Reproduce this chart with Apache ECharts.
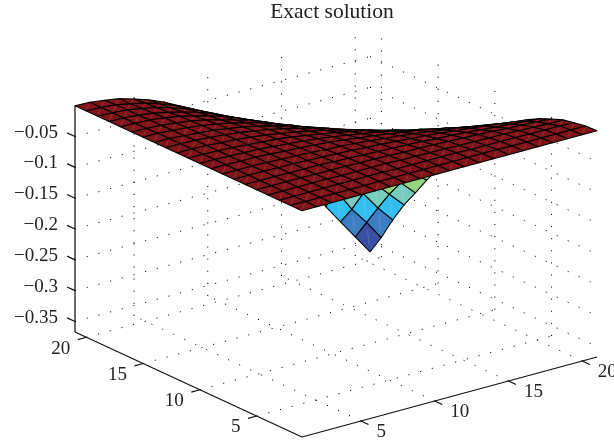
<!DOCTYPE html>
<html>
<head>
<meta charset="utf-8">
<script src="https://cdn.jsdelivr.net/npm/echarts@6/dist/echarts.min.js"></script>
<style>html,body{margin:0;padding:0;background:#fff}#c{width:614px;height:442px}</style>
</head>
<body>
<div id="c"></div>
<script>
const titleText = 'Exact solution';
const xTicks = [5, 10, 15, 20];
const yTicks = [5, 10, 15, 20];
const zTicks = [-0.05, -0.1, -0.15, -0.2, -0.25, -0.3, -0.35];
const zTickLabels = ['\u22120.05', '\u22120.1', '\u22120.15', '\u22120.2', '\u22120.25', '\u22120.3', '\u22120.35'];
const axisLow = 1, axisHigh = 21, zLow = -0.367, zTop = 0.0;
// rows: y = 1..21, columns: x = 1..21
const surfaceZ = [
[0,0,0,0,0,0,0,0,0,0,0,0,0,0,0,0,0,0,0,0,0],
[0,0,0,0,0,0,0,0,0,0,0,0,0,0,0,-0.001,-0.001,-0.001,-0.001,-0.001,-0.001],
[0,0,0,0,0,0,0,0,-0.001,-0.001,-0.001,-0.001,-0.001,-0.002,-0.002,-0.002,-0.002,-0.003,-0.003,-0.003,-0.004],
[0,0,0,0,0,-0.001,-0.001,-0.001,-0.001,-0.002,-0.002,-0.003,-0.003,-0.004,-0.004,-0.005,-0.005,-0.006,-0.007,-0.008,-0.008],
[0,0,0,0,-0.001,-0.001,-0.001,-0.002,-0.002,-0.003,-0.004,-0.004,-0.005,-0.006,-0.007,-0.008,-0.009,-0.011,-0.012,-0.013,-0.015],
[0,0,0,-0.001,-0.001,-0.001,-0.002,-0.003,-0.004,-0.005,-0.006,-0.007,-0.008,-0.01,-0.011,-0.013,-0.015,-0.017,-0.019,-0.021,-0.023],
[0,0,0,-0.001,-0.001,-0.002,-0.003,-0.004,-0.005,-0.007,-0.008,-0.01,-0.012,-0.014,-0.016,-0.019,-0.021,-0.024,-0.027,-0.03,-0.033],
[0,0,0,-0.001,-0.002,-0.003,-0.004,-0.006,-0.007,-0.009,-0.011,-0.014,-0.016,-0.019,-0.022,-0.026,-0.029,-0.033,-0.037,-0.041,-0.045],
[0,0,-0.001,-0.001,-0.002,-0.004,-0.005,-0.007,-0.009,-0.012,-0.015,-0.018,-0.021,-0.025,-0.029,-0.033,-0.038,-0.043,-0.048,-0.053,-0.059],
[0,0,-0.001,-0.002,-0.003,-0.005,-0.007,-0.009,-0.012,-0.015,-0.019,-0.023,-0.027,-0.032,-0.037,-0.042,-0.048,-0.054,-0.061,-0.068,-0.075],
[0,0,-0.001,-0.002,-0.004,-0.006,-0.008,-0.011,-0.015,-0.019,-0.023,-0.028,-0.033,-0.039,-0.045,-0.052,-0.059,-0.067,-0.075,-0.083,-0.093],
[0,0,-0.001,-0.003,-0.004,-0.007,-0.01,-0.014,-0.018,-0.023,-0.028,-0.034,-0.04,-0.047,-0.055,-0.063,-0.072,-0.081,-0.091,-0.101,-0.112],
[0,0,-0.001,-0.003,-0.005,-0.008,-0.012,-0.016,-0.021,-0.027,-0.033,-0.04,-0.048,-0.056,-0.065,-0.075,-0.085,-0.096,-0.108,-0.12,-0.133],
[0,0,-0.002,-0.004,-0.006,-0.01,-0.014,-0.019,-0.025,-0.032,-0.039,-0.047,-0.056,-0.066,-0.077,-0.088,-0.1,-0.113,-0.127,-0.141,-0.156],
[0,0,-0.002,-0.004,-0.007,-0.011,-0.016,-0.022,-0.029,-0.037,-0.045,-0.055,-0.065,-0.077,-0.089,-0.102,-0.116,-0.131,-0.147,-0.164,-0.181],
[0,-0.001,-0.002,-0.005,-0.008,-0.013,-0.019,-0.026,-0.033,-0.042,-0.052,-0.063,-0.075,-0.088,-0.102,-0.117,-0.133,-0.15,-0.169,-0.188,-0.208],
[0,-0.001,-0.002,-0.005,-0.009,-0.015,-0.021,-0.029,-0.038,-0.048,-0.059,-0.072,-0.085,-0.1,-0.116,-0.133,-0.152,-0.171,-0.192,-0.214,-0.237],
[0,-0.001,-0.003,-0.006,-0.011,-0.017,-0.024,-0.033,-0.043,-0.054,-0.067,-0.081,-0.096,-0.113,-0.131,-0.15,-0.171,-0.193,-0.217,-0.241,-0.265],
[0,-0.001,-0.003,-0.007,-0.012,-0.019,-0.027,-0.037,-0.048,-0.061,-0.075,-0.091,-0.108,-0.127,-0.147,-0.169,-0.192,-0.217,-0.242,-0.272,-0.298],
[0,-0.001,-0.003,-0.008,-0.013,-0.021,-0.03,-0.041,-0.053,-0.068,-0.083,-0.101,-0.12,-0.141,-0.164,-0.188,-0.214,-0.241,-0.276,-0.304,-0.335],
[0,-0.001,-0.004,-0.008,-0.015,-0.023,-0.033,-0.045,-0.059,-0.075,-0.093,-0.112,-0.133,-0.156,-0.181,-0.208,-0.237,-0.274,-0.305,-0.336,-0.367]
];
// facet colour bands: upper z bound -> colour
const bandTops = [-0.285, -0.255, -0.23, -0.204, -0.178, -0.15, -0.04, 1];
const bandColors = ['#3a50a5', '#3c7dc3', '#32bef0', '#76cdbe', '#94d480', '#bed75a', '#8f181c', '#801418'];

// view: screen vectors of the plot box (orthographic view of the 3-D box)
const view = { ox: 302, oy: 437, xx: 295, xy: -80, yx: -227, yy: -105, zz: -226.3 };
const xSpan = axisHigh - axisLow;
function project(x, y, z) {
  const a = (x - axisLow) / xSpan, b = (y - axisLow) / xSpan, c = (z - zLow) / (zTop - zLow);
  return [view.ox + a * view.xx + b * view.yx, view.oy + a * view.xy + b * view.yy + c * view.zz];
}
const chart = echarts.init(document.getElementById('c'));

// dotted grid: [x1,y1,z1,x2,y2,z2]
const gridLines = [];
xTicks.forEach(t => {
  gridLines.push([t, axisLow, zLow, t, axisHigh, zLow]);      // floor
  gridLines.push([t, axisHigh, zLow, t, axisHigh, zTop]);     // back-left wall
});
yTicks.forEach(t => {
  gridLines.push([axisLow, t, zLow, axisHigh, t, zLow]);      // floor
  gridLines.push([axisHigh, t, zLow, axisHigh, t, zTop]);     // back-right wall
});
zTicks.forEach(t => {
  gridLines.push([axisLow, axisHigh, t, axisHigh, axisHigh, t]);
  gridLines.push([axisHigh, axisHigh, t, axisHigh, axisLow, t]);
});

// solid axes and tick marks
const axisLines = [
  [axisLow, axisHigh, zLow, axisLow, axisHigh, zTop],
  [axisLow, axisLow, zLow, axisLow, axisHigh, zLow],
  [axisLow, axisLow, zLow, axisHigh, axisLow, zLow]
];
xTicks.forEach(t => axisLines.push([t, axisLow, zLow, t, axisLow - 0.66, zLow]));
yTicks.forEach(t => axisLines.push([axisLow, t, zLow, axisLow - 0.58, t, zLow]));
zTicks.forEach(t => axisLines.push([axisLow, axisHigh, t, axisLow, axisHigh + 0.7, t]));

// tick labels
const labels = [];
xTicks.forEach(t => labels.push({ p: [t, axisLow, zLow], text: String(t), dx: 15.5, dy: 11.5, align: 'left' }));
yTicks.forEach(t => labels.push({ p: [axisLow, t, zLow], text: String(t), dx: -16, dy: 11.5, align: 'right' }));
zTicks.forEach((t, i) => labels.push({ p: [axisLow, axisHigh, t], text: zTickLabels[i], dx: -17, dy: -4, align: 'right' }));

// surface cells in back-to-front order
const cells = [];
for (let j = surfaceZ.length - 2; j >= 0; j--) {
  for (let i = surfaceZ[j].length - 2; i >= 0; i--) cells.push([i, j]);
}
function colorFor(z) {
  for (let k = 0; k < bandTops.length; k++) if (z <= bandTops[k]) return bandColors[k];
  return bandColors[bandColors.length - 1];
}
function lineRenderer(style) {
  return function (params, api) {
    const a = api.coord(project(api.value(0), api.value(1), api.value(2)));
    const b = api.coord(project(api.value(3), api.value(4), api.value(5)));
    return { type: 'line', shape: { x1: a[0], y1: a[1], x2: b[0], y2: b[1] }, style: style, silent: true };
  };
}
chart.setOption({
  animation: false,
  backgroundColor: '#ffffff',
  title: {
    text: titleText, left: 332, top: 1, padding: 0, textAlign: 'center',
    textStyle: { fontFamily: '"Liberation Serif"', fontSize: 21.5, fontWeight: 'normal', color: '#222' }
  },
  grid: { left: 0, right: 0, top: 0, bottom: 0 },
  xAxis: { type: 'value', min: 0, max: 614, show: false },
  yAxis: { type: 'value', min: 0, max: 442, inverse: true, show: false },
  series: [
    {
      type: 'custom', name: 'grid', coordinateSystem: 'cartesian2d', silent: true, clip: false,
      encode: { x: 0, y: 1 }, dimensions: ['a', 'b', 'c', 'd', 'e', 'f'],
      data: gridLines, progressive: 0,
      renderItem: lineRenderer({ stroke: '#000', lineWidth: 1, lineDash: [1.1, 11], fill: null })
    },
    {
      type: 'custom', name: 'surface', coordinateSystem: 'cartesian2d', silent: true, clip: false,
      data: cells, progressive: 0,
      renderItem: function (params, api) {
        const i = api.value(0), j = api.value(1);
        const xv = i + 1, yv = j + 1;
        const p00 = api.coord(project(xv, yv, surfaceZ[j][i]));
        const p10 = api.coord(project(xv + 1, yv, surfaceZ[j][i + 1]));
        const p11 = api.coord(project(xv + 1, yv + 1, surfaceZ[j + 1][i + 1]));
        const p01 = api.coord(project(xv, yv + 1, surfaceZ[j + 1][i]));
        return {
          type: 'group', silent: true,
          children: [
            { type: 'polygon', shape: { points: [p00, p10, p11, p01] },
              style: { fill: colorFor(surfaceZ[j][i]), stroke: '#000', lineWidth: 1.05, lineJoin: 'round' } },
            { type: 'line', shape: { x1: p00[0] + (p11[0] - p00[0]) * 0.25, y1: p00[1] + (p11[1] - p00[1]) * 0.25,
                                     x2: p00[0] + (p11[0] - p00[0]) * 0.75, y2: p00[1] + (p11[1] - p00[1]) * 0.75 },
              style: { stroke: 'rgba(255,225,200,0.3)', lineWidth: 0.6, fill: null } }
          ]
        };
      }
    },
    {
      type: 'custom', name: 'axes', coordinateSystem: 'cartesian2d', silent: true, clip: false,
      data: axisLines, progressive: 0,
      renderItem: lineRenderer({ stroke: '#111', lineWidth: 1.25, fill: null })
    },
    {
      type: 'custom', name: 'labels', coordinateSystem: 'cartesian2d', silent: true, clip: false,
      data: labels.map(l => [l.p[0], l.p[1], l.p[2]]), progressive: 0,
      renderItem: function (params, api) {
        const l = labels[params.dataIndex];
        const c = api.coord(project(l.p[0], l.p[1], l.p[2]));
        return { type: 'text', silent: true, x: c[0] + l.dx, y: c[1] + l.dy,
          style: { text: l.text, fill: '#222', font: '19px "Liberation Serif"', align: l.align, verticalAlign: 'middle' } };
      }
    }
  ]
});
</script>
</body>
</html>
